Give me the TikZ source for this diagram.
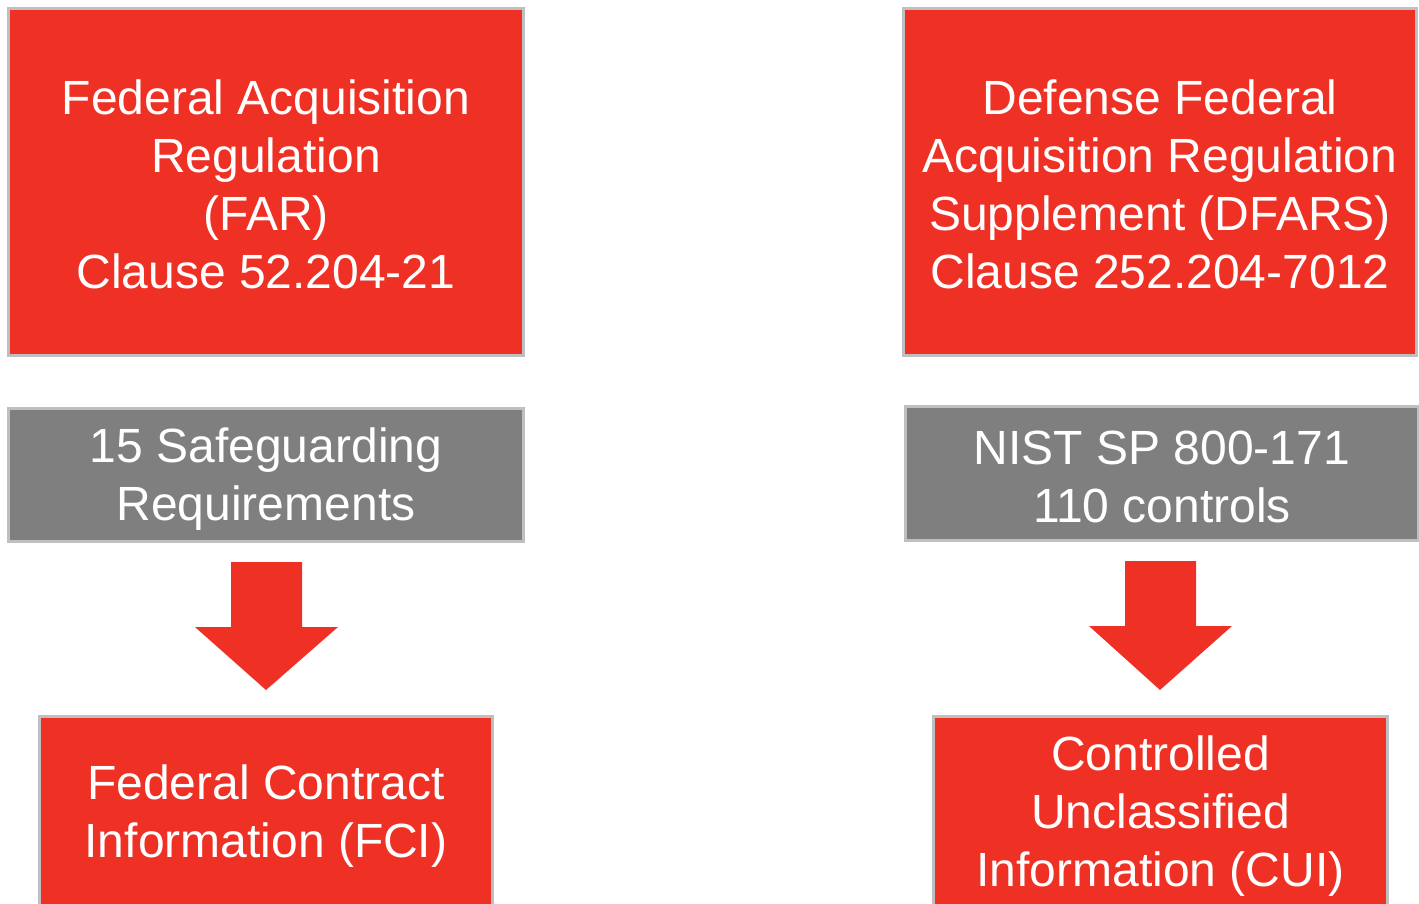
\documentclass[tikz,border=0pt]{standalone}
\usepackage{fontspec}
\setmainfont{Liberation Sans}
\definecolor{boxred}{HTML}{EF3125}
\definecolor{boxgray}{HTML}{7F7F7F}
\definecolor{boxborder}{HTML}{BFBFBF}
\begin{document}
\begin{tikzpicture}[x=1pt,y=-1pt,
  box/.style={draw=boxborder, line width=3pt, inner sep=0pt},
  redbox/.style={box, fill=boxred},
  graybox/.style={box, fill=boxgray},
  boxtext/.style={text=white, align=center, inner sep=0pt,
    font=\fontsize{48}{58}\selectfont},
  blockarrow/.style={fill=boxred, draw=none}]
\useasboundingbox (0,0) rectangle (1419,903);
\clip (0,0) rectangle (1419,903);
\node[redbox, minimum width=515pt, minimum height=347pt] (far) at (266,182) {};
\node[boxtext] (fartext) at ([yshift=-2pt]far.center)
  {Federal Acquisition\\Regulation\\(FAR)\\Clause 52.204-21};
\node[graybox, minimum width=515pt, minimum height=133pt] (safe) at (266,475) {};
\node[boxtext] (safetext) at ([yshift=-4pt]safe.center)
  {15 Safeguarding\\Requirements};
\node[redbox, minimum width=453pt, minimum height=191pt] (fci) at (266,812) {};
\node[boxtext] (fcitext) at ([yshift=-4pt]fci.center)
  {Federal Contract\\Information (FCI)};
\node[redbox, minimum width=513pt, minimum height=347pt] (dfars) at (1160,182) {};
\node[boxtext] (dfarstext) at ([yshift=-2pt]dfars.center)
  {Defense Federal\\Acquisition Regulation\\Supplement (DFARS)\\Clause 252.204-7012};
\node[graybox, minimum width=513pt, minimum height=134pt] (nist) at (1162,473.5) {};
\node[boxtext] (nisttext) at ([yshift=-3pt]nist.center)
  {NIST SP 800-171\\110 controls};
\node[redbox, minimum width=454pt, minimum height=191pt] (cui) at (1160.5,812) {};
\node[boxtext] (cuitext) at ([yshift=-4pt]cui.center)
  {Controlled\\Unclassified\\Information (CUI)};
\fill[blockarrow] (231,562) -- (302,562) -- (302,627) -- (338,627) -- (266,690) -- (195,627) -- (231,627) -- cycle;
\fill[blockarrow] (1125,561) -- (1196,561) -- (1196,626) -- (1232,626) -- (1160,690) -- (1089,626) -- (1125,626) -- cycle;
\end{tikzpicture}
\end{document}
